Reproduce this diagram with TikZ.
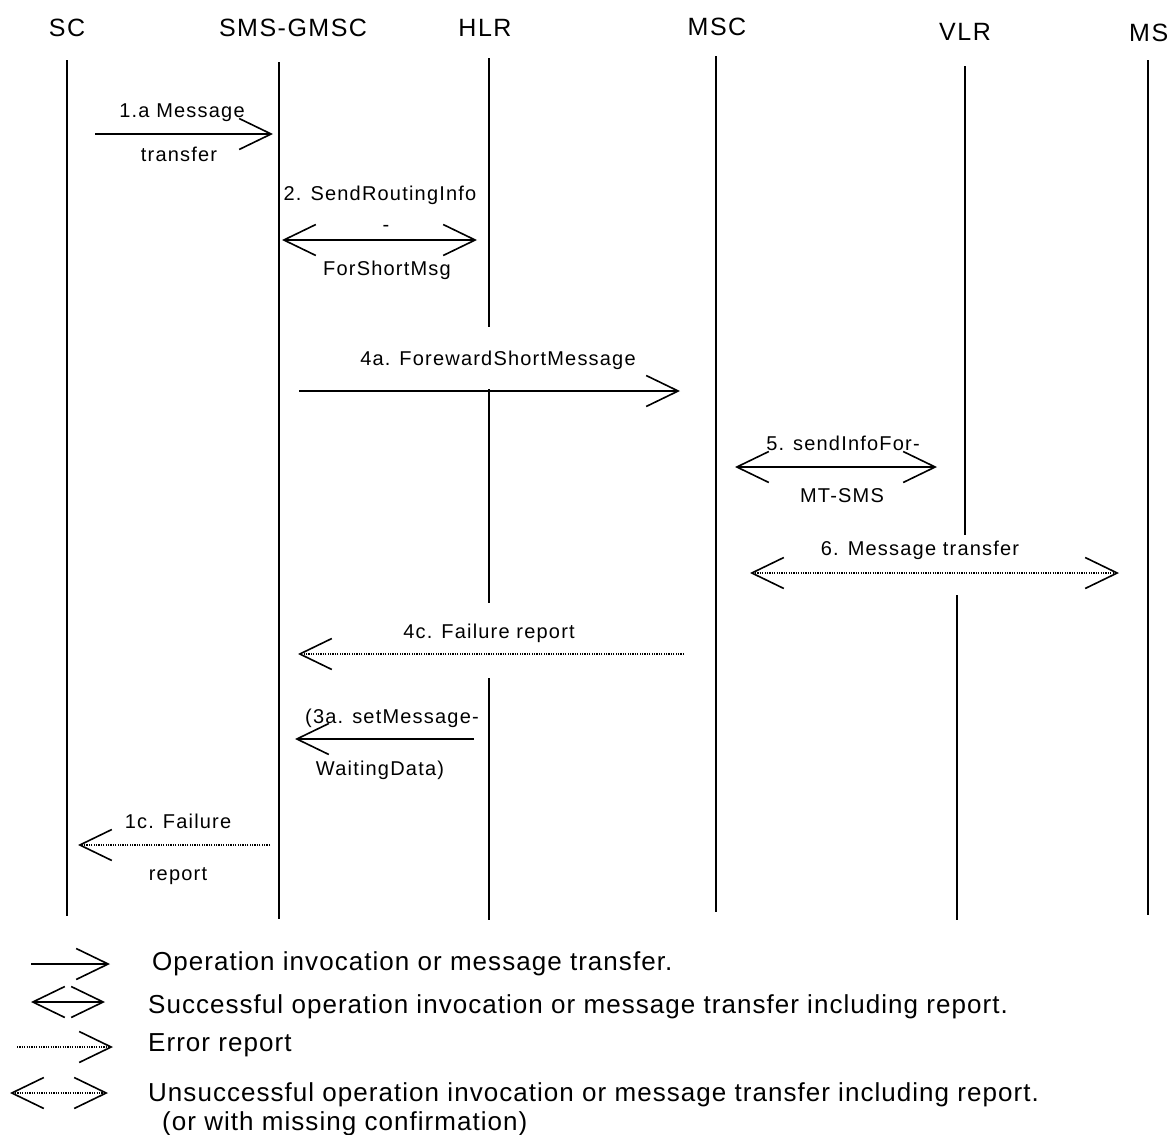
\documentclass[tikz,border=0pt]{standalone}
\usepackage{fontspec}
\usetikzlibrary{arrows.meta}
\newfontfamily\hdfont[LetterSpace=6]{Liberation Sans}
\newfontfamily\lgfont[LetterSpace=4]{Liberation Sans}
\tikzset{
  lifeline/.style={line width=1.6pt},
  msg/.style={line width=1.6pt},
  errmsg/.style={line width=1.2pt, dash pattern=on 1.2pt off 1.2pt},
  >={Straight Barb[length=32pt,width=31pt,line width=1.6pt]},
  hdr/.style={font=\hdfont\fontsize{25}{30}\selectfont, inner sep=0pt, text height=18pt, text depth=0pt},
  lbl/.style={font=\hdfont\fontsize{20}{24}\selectfont, inner sep=0pt, text height=14.5pt, text depth=0pt},
  leg/.style={font=\lgfont\fontsize{26}{31}\selectfont, inner sep=0pt, text height=19pt, text depth=0pt, anchor=west},
}
\begin{document}
\begin{tikzpicture}[x=1pt,y=-1pt]
\useasboundingbox (0,0) rectangle (1171,1135);
\fill[white] (0,0) rectangle (1171,1135);

% headers
\node[hdr] (hSC) at (67,27) {SC};
\node[hdr] (hGMSC) at (293,27) {SMS-GMSC};
\node[hdr] (hHLR) at (485,27) {HLR};
\node[hdr] (hMSC) at (717,26) {MSC};
\node[hdr] (hVLR) at (965,31) {VLR};
\node[hdr,anchor=west] (hMS) at (1129,32) {MS};

% lifelines
\coordinate (sc1) at (67,60);   \coordinate (sc2) at (67,916);
\coordinate (gm1) at (279,62);  \coordinate (gm2) at (279,919);
\coordinate (hl1) at (489,58);  \coordinate (hl2) at (489,327);
\coordinate (hl3) at (489,389); \coordinate (hl4) at (489,603);
\coordinate (hl5) at (489,678); \coordinate (hl6) at (489,920);
\coordinate (ms1) at (716,56);  \coordinate (ms2) at (716,912);
\coordinate (vl1) at (965,66);  \coordinate (vl2) at (965,535);
\coordinate (vl3) at (957,595); \coordinate (vl4) at (957,920);
\coordinate (mb1) at (1148,60); \coordinate (mb2) at (1148,915);
\draw[lifeline] (sc1) -- (sc2);
\draw[lifeline] (gm1) -- (gm2);
\draw[lifeline] (hl1) -- (hl2);
\draw[lifeline] (hl3) -- (hl4);
\draw[lifeline] (hl5) -- (hl6);
\draw[lifeline] (ms1) -- (ms2);
\draw[lifeline] (vl1) -- (vl2);
\draw[lifeline] (vl3) -- (vl4);
\draw[lifeline] (mb1) -- (mb2);

% 1.a
\coordinate (a1s) at (95,134); \coordinate (a1e) at (273,134);
\draw[msg,->] (a1s) -- (a1e);
\node[lbl] (l1a) at (182,110) {1.a Message};
\node[lbl] (l1b) at (179,154) {transfer};

% 2
\coordinate (a2s) at (282,240); \coordinate (a2e) at (477,240);
\draw[msg,<->] (a2s) -- (a2e);
\node[lbl] (l2a) at (380,193) {2. SendRoutingInfo};
\node[lbl] (l2b) at (386,224) {-};
\node[lbl] (l2c) at (387,268) {ForShortMsg};

% 4a
\coordinate (a4s) at (299,391); \coordinate (a4e) at (680,391);
\draw[msg,->] (a4s) -- (a4e);
\node[lbl] (l4a) at (498,358) {4a. ForewardShortMessage};

% 5
\coordinate (a5s) at (735,467); \coordinate (a5e) at (937,467);
\draw[msg,<->] (a5s) -- (a5e);
\node[lbl] (l5a) at (843,443) {5. sendInfoFor-};
\node[lbl] (l5b) at (842,495) {MT-SMS};

% 6
\coordinate (a6s) at (750,573); \coordinate (a6e) at (1119,573);
\draw[errmsg,<->] (a6s) -- (a6e);
\node[lbl] (l6) at (920,548) {6. Message transfer};

% 4c
\coordinate (a4cs) at (684,654); \coordinate (a4ce) at (298,654);
\draw[errmsg,->] (a4cs) -- (a4ce);
\node[lbl] (l4c) at (489,631) {4c. Failure report};

% 3a
\coordinate (a3s) at (474,739); \coordinate (a3e) at (295,739);
\draw[msg,->] (a3s) -- (a3e);
\node[lbl] (l3a) at (392,716) {(3a. setMessage-};
\node[lbl] (l3b) at (380,768) {WaitingData)};

% 1c
\coordinate (a1cs) at (270,845); \coordinate (a1ce) at (78,845);
\draw[errmsg,->] (a1cs) -- (a1ce);
\node[lbl] (l1ca) at (178,821) {1c. Failure};
\node[lbl] (l1cb) at (178,873) {report};

% legend
\coordinate (g1s) at (31,964);  \coordinate (g1e) at (110,964);
\coordinate (g2s) at (31,1002); \coordinate (g2e) at (105,1002);
\coordinate (g3s) at (17,1047); \coordinate (g3e) at (113,1047);
\coordinate (g4s) at (10,1093); \coordinate (g4e) at (108,1093);
\draw[msg,->] (g1s) -- (g1e);
\draw[msg,<->] (g2s) -- (g2e);
\draw[errmsg,->] (g3s) -- (g3e);
\draw[errmsg,<->] (g4s) -- (g4e);
\node[leg] (t1) at (152,961) {Operation invocation or message transfer.};
\node[leg] (t2) at (148,1004) {Successful operation invocation or message transfer including report.};
\node[leg] (t3) at (148,1042) {Error report};
\node[leg] (t4) at (148,1092) {Unsuccessful operation invocation or message transfer including report.};
\node[leg] (t5) at (162,1121) {(or with missing confirmation)};
\end{tikzpicture}
\end{document}
